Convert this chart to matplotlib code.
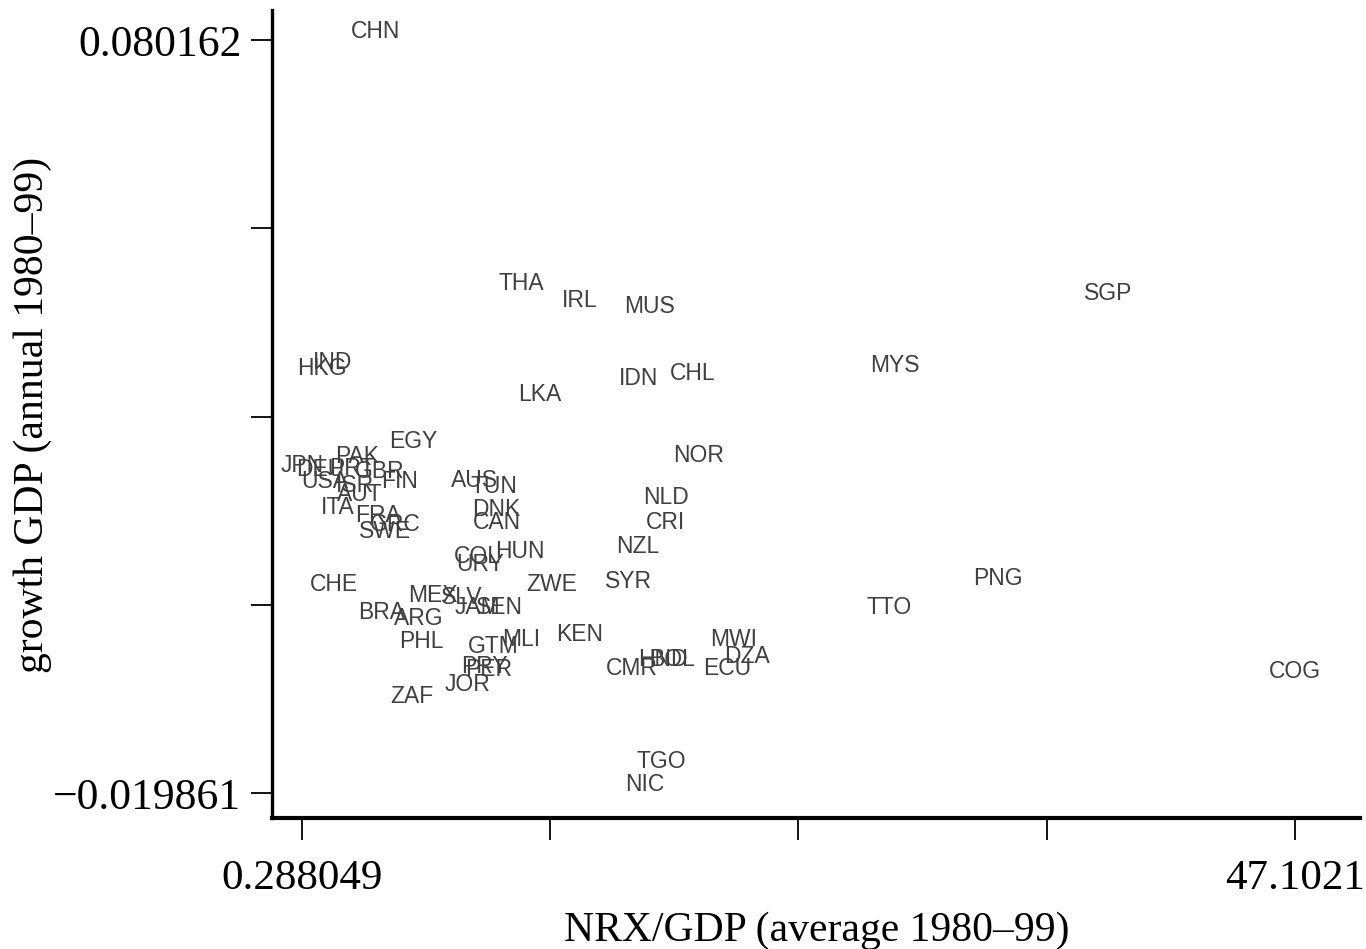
import matplotlib
matplotlib.use("Agg")
import matplotlib.pyplot as plt

# ============ DATA ============

countries = ["CHN", "THA", "IRL", "MUS", "SGP", "HKG", "IND", "IDN", "CHL", "MYS",
             "LKA", "EGY", "PAK", "NOR", "JPN", "DEU", "PRT", "GBR", "FIN", "USA",
             "ISR", "AUT", "ITA", "FRA", "GRC", "SWE", "AUS", "TUN", "NLD", "DNK",
             "CRI", "CAN", "NZL", "COL", "HUN", "URY", "CHE", "ZWE", "SYR", "PNG",
             "MEX", "SLV", "JAM", "SEN", "TTO", "BRA", "ARG", "PHL", "KEN", "MLI",
             "GTM", "MWI", "DZA", "HND", "BOL", "CMR", "ECU", "PER", "PRY", "JOR",
             "ZAF", "COG", "TGO", "NIC"]

nrx_gdp = [3.78, 10.61, 13.39, 16.65, 38.29, 1.23, 1.75, 16.18, 18.72, 28.24,
           11.51, 5.52, 2.88, 19.00, 0.288049, 1.14, 2.64, 3.96, 4.91, 1.37,
           2.79, 3.02, 1.99, 3.87, 4.67, 4.20, 8.40, 9.34, 17.45, 9.43,
           17.45, 9.48, 16.13, 8.54, 10.57, 8.68, 1.80, 12.07, 15.70, 33.10,
           6.46, 7.83, 8.54, 9.58, 27.96, 4.06, 5.80, 5.90, 13.39, 10.61,
           9.29, 20.65, 21.27, 17.31, 17.73, 15.84, 20.32, 9.10, 8.87, 8.07,
           5.47, 47.1021, 17.21, 16.46]

growth = [0.080162, 0.04669, 0.04443, 0.04363, 0.04536, 0.03540, 0.03619, 0.03407, 0.03473, 0.03579,
          0.03194, 0.02570, 0.02371, 0.02384, 0.02251, 0.02198, 0.02210, 0.02180, 0.02039, 0.02040,
          0.01986, 0.01866, 0.01693, 0.01587, 0.01467, 0.01374, 0.02052, 0.01972, 0.01826, 0.01666,
          0.01494, 0.01494, 0.01175, 0.01042, 0.01109, 0.00936, 0.00670, 0.00670, 0.00710, 0.00750,
          0.00524, 0.00498, 0.00365, 0.00365, 0.00365, 0.00298, 0.00219, -0.00087, 0.00006, -0.00060,
          -0.00153, -0.00060, -0.00286, -0.00326, -0.00326, -0.00445, -0.00445, -0.00459, -0.00420, -0.00658,
          -0.00817, -0.00485, -0.01681, -0.019861]

x_ticks = [0.288049, 11.991562, 23.695075, 35.398587, 47.1021]
x_ticklabels = ["0.288049", "", "", "", "47.1021"]
y_ticks = [-0.019861, 0.00514475, 0.0301505, 0.05515625, 0.080162]
y_ticklabels = ["\u22120.019861", "", "", "", "0.080162"]

# ============ PLOT ============

serif = "Liberation Serif"

fig = plt.figure(figsize=(13.66, 9.49), dpi=100)
ax = fig.add_axes([0.1991, 0.1380, 0.7965, 0.8514])

for name, xv, yv in zip(countries, nrx_gdp, growth):
    ax.annotate(name, (xv, yv), xytext=(0, 6), textcoords="offset points",
                ha="center", va="center", fontsize=16.5,
                family="Liberation Sans", color="#404040")

ax.set_xlim(-1.126, 50.17)
ax.set_ylim(-0.02318, 0.08415)

ax.spines["top"].set_visible(False)
ax.spines["right"].set_visible(False)
ax.spines["left"].set_linewidth(2.4)
ax.spines["bottom"].set_linewidth(3.0)

ax.set_xticks(x_ticks)
ax.set_xticklabels(x_ticklabels, family=serif, fontsize=31)
ax.set_yticks(y_ticks)
ax.set_yticklabels(y_ticklabels, family=serif, fontsize=31.5)
ax.tick_params(axis="x", length=16, width=1.3, pad=14)
ax.tick_params(axis="y", length=15, width=1.3, pad=7)

ax.set_xlabel("NRX/GDP (average 1980\u201399)", family=serif, fontsize=30)
ax.set_ylabel("growth GDP (annual 1980\u201399)", family=serif, fontsize=30)
ax.xaxis.set_label_coords(0.501, -0.116)
ax.yaxis.set_label_coords(-0.202, 0.499)

fig.savefig("out.png", dpi=100)
